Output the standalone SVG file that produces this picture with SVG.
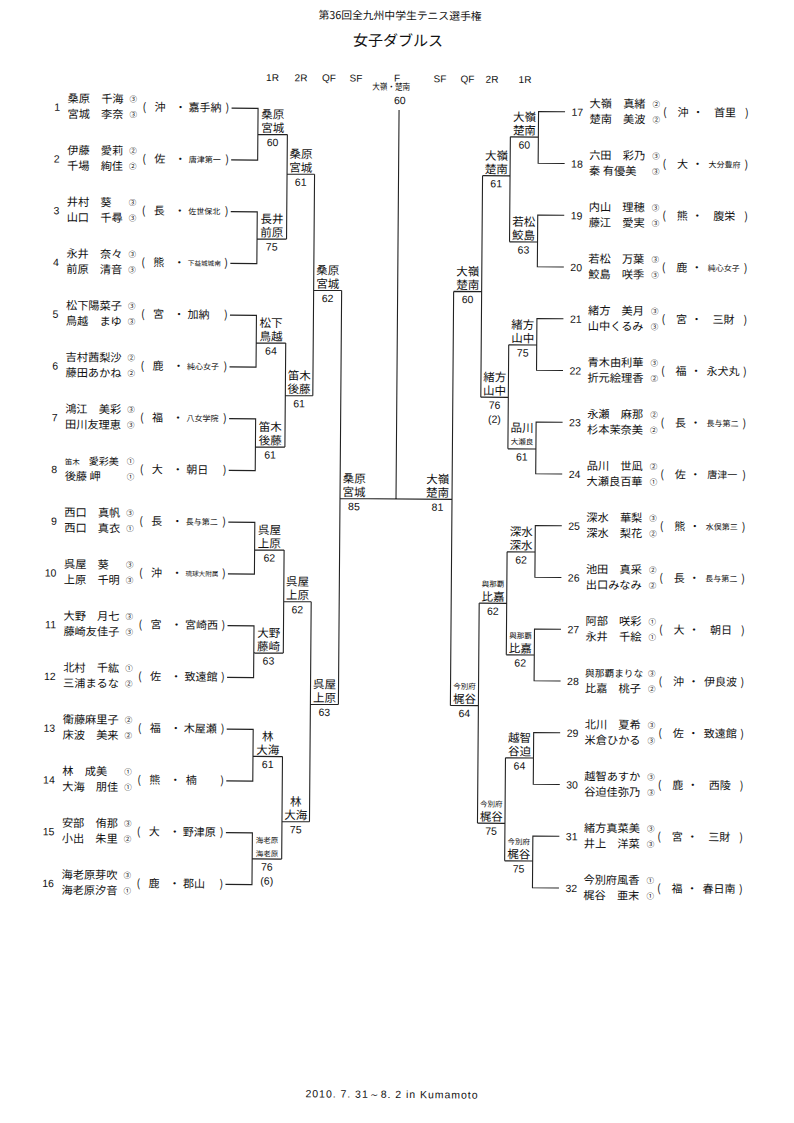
<svg xmlns="http://www.w3.org/2000/svg" width="794" height="1123" viewBox="0 0 794 1123">
<style>
text{fill:#111}
.ln{stroke:#222;stroke-width:1.1;fill:none}
.n{font-family:"Liberation Sans",Arial,sans-serif;font-size:10.5px}
.j{font-family:"Noto Sans CJK JP","Noto Sans CJK SC",sans-serif}
.jl{font-family:"Liberation Sans","Noto Sans CJK JP","Noto Sans CJK SC",sans-serif}
.nm{font-size:11.2px}
.g{font-size:7.5px}
.p{font-size:11px}
.ss{font-size:8px}
.sx{font-size:6.6px}
.lb{font-size:11.5px;text-anchor:middle}
.sm{font-size:7.5px}
.sc{font-family:"Liberation Sans",Arial,sans-serif;font-size:10.5px;text-anchor:middle}
.hd{font-family:"Liberation Sans",Arial,sans-serif;font-size:10px;text-anchor:middle}
.m{text-anchor:middle}
.e{text-anchor:end}
</style>
<rect width="794" height="1123" fill="#fff"/>
<g transform="rotate(0.45 400 500)">
<g id="title">
<text class="j m" x="396.2" y="19.5" font-size="10.8">第36回全九州中学生テニス選手権</text>
<text class="j m" x="394.4" y="46" font-size="15">女子ダブルス</text>
</g>
<g id="rounds">
<text class="hd" x="269.2" y="82">1R</text>
<text class="hd" x="297.7" y="82">2R</text>
<text class="hd" x="325.7" y="82">QF</text>
<text class="hd" x="352.7" y="82">SF</text>
<text class="hd" x="393.7" y="81.5">F</text>
<text class="hd" x="436.7" y="82">SF</text>
<text class="hd" x="464.2" y="82">QF</text>
<text class="hd" x="488.7" y="82">2R</text>
<text class="hd" x="521.7" y="82">1R</text>
</g>
<g id="connectors" class="ln">
<path d="M228.5 109.5H255V161.25H228.5M255 135.5H284.5M228.5 213H255V264.75H228.5M255 240H284.5M228.5 316.5H255V368.25H228.5M255 344H284.5M228.5 420H255V471.75H228.5M255 448H284.5M228.5 523.5H255V575.25H228.5M255 551H284.5M228.5 627H255V678.75H228.5M255 654H284.5M228.5 730.5H255V782.25H228.5M255 757.5H284.5M228.5 834H255V885.75H228.5M255 860H284.5"/>
<path d="M284.5 135.5V240M284.5 175H312M284.5 344V448M284.5 396.5H312M284.5 551V654M284.5 602.5H312M284.5 757.5V860M284.5 822.5H312"/>
<path d="M312 175V396.5M312 291H340M312 602.5V822.5M312 705H340M340 291V705M340 499H452M396 110V499"/>
<path d="M562 110.5H535.5V162.25H562M535.5 136H507.5M562 214H535.5V265.75H562M535.5 241H507.5M562 317.5H535.5V369.25H562M535.5 344H507.5M562 421H535.5V472.75H562M535.5 448H507.5M562 524.5H535.5V576.25H562M535.5 551H507.5M562 628H535.5V679.75H562M535.5 654H507.5M562 731.5H535.5V783.25H562M535.5 757H507.5M562 835H535.5V886.75H562M535.5 860H507.5"/>
<path d="M507.5 136V241M507.5 175H480M507.5 344V448M507.5 396.5H480M507.5 551V654M507.5 602.5H480M507.5 757V860M507.5 822.5H480"/>
<path d="M480 175V396.5M480 291H452M480 602.5V822.5M480 705H452M452 291V705"/>
</g>
<!-- left entries -->
<g id="e1" transform="translate(0 109.5)"><text class="n e" x="57" y="4">1</text><text class="j nm" x="64.5" y="-4.5">桑原　千海</text><text class="j nm" x="64.5" y="11">宮城　李奈</text><text class="j g" x="126.5" y="-5.5">③</text><text class="j g" x="126.5" y="10">③</text><text class="j p" x="139.5" y="3.5">(</text><text class="j p m" x="157" y="3.5">沖</text><text class="j p m" x="177.5" y="3.5">・</text><text class="j p" x="185.5" y="3.5">嘉手納</text><text class="j p" x="222.5" y="3.5">)</text></g>
<g id="e2" transform="translate(0 161.25)"><text class="n e" x="57" y="4">2</text><text class="j nm" x="64.5" y="-4.5">伊藤　愛莉</text><text class="j nm" x="64.5" y="11">千場　絢佳</text><text class="j g" x="126.5" y="-5.5">②</text><text class="j g" x="126.5" y="10">②</text><text class="j p" x="139.5" y="3.5">(</text><text class="j p m" x="157" y="3.5">佐</text><text class="j p m" x="177.5" y="3.5">・</text><text class="j ss" x="186" y="2.8">唐津第一</text><text class="j p" x="222.5" y="3.5">)</text></g>
<g id="e3" transform="translate(0 213)"><text class="n e" x="57" y="4">3</text><text class="j nm" x="64.5" y="-4.5">井村　葵</text><text class="j nm" x="64.5" y="11">山口　千尋</text><text class="j g" x="126.5" y="-5.5">③</text><text class="j g" x="126.5" y="10">③</text><text class="j p" x="139.5" y="3.5">(</text><text class="j p m" x="157" y="3.5">長</text><text class="j p m" x="177.5" y="3.5">・</text><text class="j ss" x="186" y="2.8">佐世保北</text><text class="j p" x="222.5" y="3.5">)</text></g>
<g id="e4" transform="translate(0 264.75)"><text class="n e" x="57" y="4">4</text><text class="j nm" x="64.5" y="-4.5">永井　奈々</text><text class="j nm" x="64.5" y="11">前原　清音</text><text class="j g" x="126.5" y="-5.5">③</text><text class="j g" x="126.5" y="10">③</text><text class="j p" x="139.5" y="3.5">(</text><text class="j p m" x="157" y="3.5">熊</text><text class="j p m" x="177.5" y="3.5">・</text><text class="j sx" x="186" y="2.5">下益城城南</text><text class="j p" x="222.5" y="3.5">)</text></g>
<g id="e5" transform="translate(0 316.5)"><text class="n e" x="57" y="4">5</text><text class="j nm" x="64.5" y="-4.5">松下陽菜子</text><text class="j nm" x="64.5" y="11">鳥越　まゆ</text><text class="j g" x="126.5" y="-5.5">③</text><text class="j g" x="126.5" y="10">③</text><text class="j p" x="139.5" y="3.5">(</text><text class="j p m" x="157" y="3.5">宮</text><text class="j p m" x="177.5" y="3.5">・</text><text class="j p" x="186" y="3.5">加納</text><text class="j p" x="222.5" y="3.5">)</text></g>
<g id="e6" transform="translate(0 368.25)"><text class="n e" x="57" y="4">6</text><text class="j nm" x="64.5" y="-4.5">吉村茜梨沙</text><text class="j nm" x="64.5" y="11">藤田あかね</text><text class="j g" x="126.5" y="-5.5">②</text><text class="j g" x="126.5" y="10">②</text><text class="j p" x="139.5" y="3.5">(</text><text class="j p m" x="157" y="3.5">鹿</text><text class="j p m" x="177.5" y="3.5">・</text><text class="j ss" x="186" y="2.8">純心女子</text><text class="j p" x="222.5" y="3.5">)</text></g>
<g id="e7" transform="translate(0 420)"><text class="n e" x="57" y="4">7</text><text class="j nm" x="64.5" y="-4.5">鴻江　美彩</text><text class="j nm" x="64.5" y="11">田川友理恵</text><text class="j g" x="126.5" y="-5.5">③</text><text class="j g" x="126.5" y="10">③</text><text class="j p" x="139.5" y="3.5">(</text><text class="j p m" x="157" y="3.5">福</text><text class="j p m" x="177.5" y="3.5">・</text><text class="j ss" x="186" y="2.8">八女学院</text><text class="j p" x="222.5" y="3.5">)</text></g>
<g id="e8" transform="translate(0 471.75)"><text class="n e" x="57" y="4">8</text><text class="j" x="64.5" y="-4.5"><tspan font-size="7.5">笛木</tspan><tspan x="88.5" font-size="10">愛彩美</tspan></text><text class="j nm" x="64.5" y="11">後藤 岬</text><text class="j g" x="126.5" y="-5.5">①</text><text class="j g" x="126.5" y="10">①</text><text class="j p" x="139.5" y="3.5">(</text><text class="j p m" x="157" y="3.5">大</text><text class="j p m" x="177.5" y="3.5">・</text><text class="j p" x="186" y="3.5">朝日</text><text class="j p" x="222.5" y="3.5">)</text></g>
<g id="e9" transform="translate(0 523.5)"><text class="n e" x="57" y="4">9</text><text class="j nm" x="64.5" y="-4.5">西口　真帆</text><text class="j nm" x="64.5" y="11">西口　真衣</text><text class="j g" x="126.5" y="-5.5">③</text><text class="j g" x="126.5" y="10">①</text><text class="j p" x="139.5" y="3.5">(</text><text class="j p m" x="157" y="3.5">長</text><text class="j p m" x="177.5" y="3.5">・</text><text class="j ss" x="186" y="2.8">長与第二</text><text class="j p" x="222.5" y="3.5">)</text></g>
<g id="e10" transform="translate(0 575.25)"><text class="n e" x="57" y="4">10</text><text class="j nm" x="64.5" y="-4.5">呉屋　葵</text><text class="j nm" x="64.5" y="11">上原　千明</text><text class="j g" x="126.5" y="-5.5">③</text><text class="j g" x="126.5" y="10">③</text><text class="j p" x="139.5" y="3.5">(</text><text class="j p m" x="157" y="3.5">沖</text><text class="j p m" x="177.5" y="3.5">・</text><text class="j sx" x="186" y="2.5">琉球大附属</text><text class="j p" x="222.5" y="3.5">)</text></g>
<g id="e11" transform="translate(0 627)"><text class="n e" x="57" y="4">11</text><text class="j nm" x="64.5" y="-4.5">大野　月七</text><text class="j nm" x="64.5" y="11">藤崎友佳子</text><text class="j g" x="126.5" y="-5.5">③</text><text class="j g" x="126.5" y="10">③</text><text class="j p" x="139.5" y="3.5">(</text><text class="j p m" x="157" y="3.5">宮</text><text class="j p m" x="177.5" y="3.5">・</text><text class="j p" x="186" y="3.5">宮崎西</text><text class="j p" x="222.5" y="3.5">)</text></g>
<g id="e12" transform="translate(0 678.75)"><text class="n e" x="57" y="4">12</text><text class="j nm" x="64.5" y="-4.5">北村　千紘</text><text class="j nm" x="64.5" y="11">三浦まるな</text><text class="j g" x="126.5" y="-5.5">①</text><text class="j g" x="126.5" y="10">②</text><text class="j p" x="139.5" y="3.5">(</text><text class="j p m" x="157" y="3.5">佐</text><text class="j p m" x="177.5" y="3.5">・</text><text class="j p" x="186" y="3.5">致遠館</text><text class="j p" x="222.5" y="3.5">)</text></g>
<g id="e13" transform="translate(0 730.5)"><text class="n e" x="57" y="4">13</text><text class="j nm" x="64.5" y="-4.5">衛藤麻里子</text><text class="j nm" x="64.5" y="11">床波　美来</text><text class="j g" x="126.5" y="-5.5">②</text><text class="j g" x="126.5" y="10">②</text><text class="j p" x="139.5" y="3.5">(</text><text class="j p m" x="157" y="3.5">福</text><text class="j p m" x="177.5" y="3.5">・</text><text class="j p" x="185.5" y="3.5">木屋瀬</text><text class="j p" x="222.5" y="3.5">)</text></g>
<g id="e14" transform="translate(0 782.25)"><text class="n e" x="57" y="4">14</text><text class="j nm" x="64.5" y="-4.5">林　成美</text><text class="j nm" x="64.5" y="11">大海　朋佳</text><text class="j g" x="126.5" y="-5.5">①</text><text class="j g" x="126.5" y="10">①</text><text class="j p" x="139.5" y="3.5">(</text><text class="j p m" x="157" y="3.5">熊</text><text class="j p m" x="177.5" y="3.5">・</text><text class="j p" x="188" y="3.5">楠</text><text class="j p" x="222.5" y="3.5">)</text></g>
<g id="e15" transform="translate(0 834)"><text class="n e" x="57" y="4">15</text><text class="j nm" x="64.5" y="-4.5">安部　侑那</text><text class="j nm" x="64.5" y="11">小出　朱里</text><text class="j g" x="126.5" y="-5.5">③</text><text class="j g" x="126.5" y="10">②</text><text class="j p" x="139.5" y="3.5">(</text><text class="j p m" x="157" y="3.5">大</text><text class="j p m" x="177.5" y="3.5">・</text><text class="j p" x="185.5" y="3.5">野津原</text><text class="j p" x="222.5" y="3.5">)</text></g>
<g id="e16" transform="translate(0 885.75)"><text class="n e" x="57" y="4">16</text><text class="j nm" x="64.5" y="-4.5">海老原芽吹</text><text class="j nm" x="64.5" y="11">海老原汐音</text><text class="j g" x="126.5" y="-5.5">③</text><text class="j g" x="126.5" y="10">①</text><text class="j p" x="139.5" y="3.5">(</text><text class="j p m" x="157" y="3.5">鹿</text><text class="j p m" x="177.5" y="3.5">・</text><text class="j p" x="186" y="3.5">郡山</text><text class="j p" x="222.5" y="3.5">)</text></g>
<!-- right entries -->
<g id="e17" transform="translate(0 110.5)"><text class="n" x="568.5" y="4">17</text><text class="j nm" x="586.5" y="-4.5">大嶺　真緒</text><text class="j nm" x="586.5" y="11">楚南　美波</text><text class="j g" x="649.5" y="-5.5">②</text><text class="j g" x="649.5" y="10">②</text><text class="j p" x="660" y="3.5">(</text><text class="j p m" x="680" y="3.5">沖</text><text class="j p m" x="695" y="3.5">・</text><text class="j p m" x="722" y="3.5">首里</text><text class="j p" x="742" y="3.5">)</text></g>
<g id="e18" transform="translate(0 162.25)"><text class="n" x="568.5" y="4">18</text><text class="j nm" x="586.5" y="-4.5">六田　彩乃</text><text class="j nm" x="586.5" y="11">秦 有優美</text><text class="j g" x="649.5" y="-5.5">③</text><text class="j g" x="649.5" y="10">③</text><text class="j p" x="660" y="3.5">(</text><text class="j p m" x="680" y="3.5">大</text><text class="j p m" x="695" y="3.5">・</text><text class="j ss m" x="722" y="2.8">大分豊府</text><text class="j p" x="742" y="3.5">)</text></g>
<g id="e19" transform="translate(0 214)"><text class="n" x="568.5" y="4">19</text><text class="j nm" x="586.5" y="-4.5">内山　理穂</text><text class="j nm" x="586.5" y="11">藤江　愛実</text><text class="j g" x="649.5" y="-5.5">③</text><text class="j g" x="649.5" y="10">③</text><text class="j p" x="660" y="3.5">(</text><text class="j p m" x="680" y="3.5">熊</text><text class="j p m" x="695" y="3.5">・</text><text class="j p m" x="722" y="3.5">腹栄</text><text class="j p" x="742" y="3.5">)</text></g>
<g id="e20" transform="translate(0 265.75)"><text class="n" x="568.5" y="4">20</text><text class="j nm" x="586.5" y="-4.5">若松　万葉</text><text class="j nm" x="586.5" y="11">鮫島　咲季</text><text class="j g" x="649.5" y="-5.5">③</text><text class="j g" x="649.5" y="10">③</text><text class="j p" x="660" y="3.5">(</text><text class="j p m" x="680" y="3.5">鹿</text><text class="j p m" x="695" y="3.5">・</text><text class="j ss m" x="722" y="2.8">純心女子</text><text class="j p" x="742" y="3.5">)</text></g>
<g id="e21" transform="translate(0 317.5)"><text class="n" x="568.5" y="4">21</text><text class="j nm" x="586.5" y="-4.5">緒方　美月</text><text class="j nm" x="586.5" y="11">山中くるみ</text><text class="j g" x="649.5" y="-5.5">③</text><text class="j g" x="649.5" y="10">③</text><text class="j p" x="660" y="3.5">(</text><text class="j p m" x="680" y="3.5">宮</text><text class="j p m" x="695" y="3.5">・</text><text class="j p m" x="722" y="3.5">三財</text><text class="j p" x="742" y="3.5">)</text></g>
<g id="e22" transform="translate(0 369.25)"><text class="n" x="568.5" y="4">22</text><text class="j nm" x="586.5" y="-4.5">青木由利華</text><text class="j nm" x="586.5" y="11">折元絵理香</text><text class="j g" x="649.5" y="-5.5">③</text><text class="j g" x="649.5" y="10">②</text><text class="j p" x="660" y="3.5">(</text><text class="j p m" x="680" y="3.5">福</text><text class="j p m" x="695" y="3.5">・</text><text class="j p m" x="722" y="3.5">永犬丸</text><text class="j p" x="742" y="3.5">)</text></g>
<g id="e23" transform="translate(0 421)"><text class="n" x="568.5" y="4">23</text><text class="j nm" x="586.5" y="-4.5">永瀬　麻那</text><text class="j nm" x="586.5" y="11">杉本茉奈美</text><text class="j g" x="649.5" y="-5.5">②</text><text class="j g" x="649.5" y="10">②</text><text class="j p" x="660" y="3.5">(</text><text class="j p m" x="680" y="3.5">長</text><text class="j p m" x="695" y="3.5">・</text><text class="j ss m" x="722" y="2.8">長与第二</text><text class="j p" x="742" y="3.5">)</text></g>
<g id="e24" transform="translate(0 472.75)"><text class="n" x="568.5" y="4">24</text><text class="j nm" x="586.5" y="-4.5">品川　世凪</text><text class="j nm" x="586.5" y="11">大瀬良百華</text><text class="j g" x="649.5" y="-5.5">②</text><text class="j g" x="649.5" y="10">①</text><text class="j p" x="660" y="3.5">(</text><text class="j p m" x="680" y="3.5">佐</text><text class="j p m" x="695" y="3.5">・</text><text class="j m" x="722" y="3.2" font-size="10">唐津一</text><text class="j p" x="742" y="3.5">)</text></g>
<g id="e25" transform="translate(0 524.5)"><text class="n" x="568.5" y="4">25</text><text class="j nm" x="586.5" y="-4.5">深水　華梨</text><text class="j nm" x="586.5" y="11">深水　梨花</text><text class="j g" x="649.5" y="-5.5">③</text><text class="j g" x="649.5" y="10">②</text><text class="j p" x="660" y="3.5">(</text><text class="j p m" x="680" y="3.5">熊</text><text class="j p m" x="695" y="3.5">・</text><text class="j ss m" x="722" y="2.8">水俣第三</text><text class="j p" x="742" y="3.5">)</text></g>
<g id="e26" transform="translate(0 576.25)"><text class="n" x="568.5" y="4">26</text><text class="j nm" x="586.5" y="-4.5">池田　真采</text><text class="j nm" x="586.5" y="11">出口みなみ</text><text class="j g" x="649.5" y="-5.5">②</text><text class="j g" x="649.5" y="10">②</text><text class="j p" x="660" y="3.5">(</text><text class="j p m" x="680" y="3.5">長</text><text class="j p m" x="695" y="3.5">・</text><text class="j ss m" x="722" y="2.8">長与第二</text><text class="j p" x="742" y="3.5">)</text></g>
<g id="e27" transform="translate(0 628)"><text class="n" x="568.5" y="4">27</text><text class="j nm" x="586.5" y="-4.5">阿部　咲彩</text><text class="j nm" x="586.5" y="11">永井　千絵</text><text class="j g" x="649.5" y="-5.5">①</text><text class="j g" x="649.5" y="10">①</text><text class="j p" x="660" y="3.5">(</text><text class="j p m" x="680" y="3.5">大</text><text class="j p m" x="695" y="3.5">・</text><text class="j p m" x="722" y="3.5">朝日</text><text class="j p" x="742" y="3.5">)</text></g>
<g id="e28" transform="translate(0 679.75)"><text class="n" x="568.5" y="4">28</text><text class="j" x="586.5" y="-4.5" font-size="9.7">與那覇まりな</text><text class="j nm" x="586.5" y="11">比嘉　桃子</text><text class="j g" x="649.5" y="-5.5">③</text><text class="j g" x="649.5" y="10">②</text><text class="j p" x="660" y="3.5">(</text><text class="j p m" x="680" y="3.5">沖</text><text class="j p m" x="695" y="3.5">・</text><text class="j p m" x="722" y="3.5">伊良波</text><text class="j p" x="742" y="3.5">)</text></g>
<g id="e29" transform="translate(0 731.5)"><text class="n" x="568.5" y="4">29</text><text class="j nm" x="586.5" y="-4.5">北川　夏希</text><text class="j nm" x="586.5" y="11">米倉ひかる</text><text class="j g" x="649.5" y="-5.5">③</text><text class="j g" x="649.5" y="10">③</text><text class="j p" x="660" y="3.5">(</text><text class="j p m" x="680" y="3.5">佐</text><text class="j p m" x="695" y="3.5">・</text><text class="j p m" x="722" y="3.5">致遠館</text><text class="j p" x="742" y="3.5">)</text></g>
<g id="e30" transform="translate(0 783.25)"><text class="n" x="568.5" y="4">30</text><text class="j nm" x="586.5" y="-4.5">越智あすか</text><text class="j nm" x="586.5" y="11">谷迫佳弥乃</text><text class="j g" x="649.5" y="-5.5">③</text><text class="j g" x="649.5" y="10">③</text><text class="j p" x="660" y="3.5">(</text><text class="j p m" x="680" y="3.5">鹿</text><text class="j p m" x="695" y="3.5">・</text><text class="j p m" x="722" y="3.5">西陵</text><text class="j p" x="742" y="3.5">)</text></g>
<g id="e31" transform="translate(0 835)"><text class="n" x="568.5" y="4">31</text><text class="j nm" x="586.5" y="-4.5">緒方真菜美</text><text class="j nm" x="586.5" y="11">井上　洋菜</text><text class="j g" x="649.5" y="-5.5">③</text><text class="j g" x="649.5" y="10">③</text><text class="j p" x="660" y="3.5">(</text><text class="j p m" x="680" y="3.5">宮</text><text class="j p m" x="695" y="3.5">・</text><text class="j p m" x="722" y="3.5">三財</text><text class="j p" x="742" y="3.5">)</text></g>
<g id="e32" transform="translate(0 886.75)"><text class="n" x="568.5" y="4">32</text><text class="j nm" x="586.5" y="-4.5">今別府風香</text><text class="j nm" x="586.5" y="11">梶谷　亜末</text><text class="j g" x="649.5" y="-5.5">①</text><text class="j g" x="649.5" y="10">①</text><text class="j p" x="660" y="3.5">(</text><text class="j p m" x="680" y="3.5">福</text><text class="j p m" x="695" y="3.5">・</text><text class="j p m" x="722" y="3.5">春日南</text><text class="j p" x="742" y="3.5">)</text></g>
<!-- left winners -->
<g id="l1a" transform="translate(269.75 135.5)"><text class="jl lb"><tspan x="0" y="-16">桑原</tspan><tspan x="0" y="-2.5">宮城</tspan></text><text class="sc" y="11.5">60</text></g>
<g id="l1b" transform="translate(269.75 240)"><text class="jl lb"><tspan x="0" y="-16">長井</tspan><tspan x="0" y="-2.5">前原</tspan></text><text class="sc" y="11.5">75</text></g>
<g id="l1c" transform="translate(269.75 344)"><text class="jl lb"><tspan x="0" y="-16">松下</tspan><tspan x="0" y="-2.5">鳥越</tspan></text><text class="sc" y="11.5">64</text></g>
<g id="l1d" transform="translate(269.75 448)"><text class="jl lb"><tspan x="0" y="-16">笛木</tspan><tspan x="0" y="-2.5">後藤</tspan></text><text class="sc" y="11.5">61</text></g>
<g id="l1e" transform="translate(269.75 551)"><text class="jl lb"><tspan x="0" y="-16">呉屋</tspan><tspan x="0" y="-2.5">上原</tspan></text><text class="sc" y="11.5">62</text></g>
<g id="l1f" transform="translate(269.75 654)"><text class="jl lb"><tspan x="0" y="-16">大野</tspan><tspan x="0" y="-2.5">藤崎</tspan></text><text class="sc" y="11.5">63</text></g>
<g id="l1g" transform="translate(269.75 757.5)"><text class="jl lb"><tspan x="0" y="-16">林</tspan><tspan x="0" y="-2.5">大海</tspan></text><text class="sc" y="11.5">61</text></g>
<g id="l1h" transform="translate(269.75 860)"><text class="jl lb sm"><tspan x="0" y="-16">海老原</tspan><tspan x="0" y="-2.5">海老原</tspan></text><text class="sc" y="11.5">76</text><text class="sc" y="25.5">(6)</text></g>
<g id="l2a" transform="translate(298.25 175)"><text class="jl lb"><tspan x="0" y="-16">桑原</tspan><tspan x="0" y="-2.5">宮城</tspan></text><text class="sc" y="11.5">61</text></g>
<g id="l2b" transform="translate(298.25 396.5)"><text class="jl lb"><tspan x="0" y="-16">笛木</tspan><tspan x="0" y="-2.5">後藤</tspan></text><text class="sc" y="11.5">61</text></g>
<g id="l2c" transform="translate(298.25 602.5)"><text class="jl lb"><tspan x="0" y="-16">呉屋</tspan><tspan x="0" y="-2.5">上原</tspan></text><text class="sc" y="11.5">62</text></g>
<g id="l2d" transform="translate(298.25 822.5)"><text class="jl lb"><tspan x="0" y="-16">林</tspan><tspan x="0" y="-2.5">大海</tspan></text><text class="sc" y="11.5">75</text></g>
<g id="lqa" transform="translate(326 291)"><text class="jl lb"><tspan x="0" y="-16">桑原</tspan><tspan x="0" y="-2.5">宮城</tspan></text><text class="sc" y="11.5">62</text></g>
<g id="lqb" transform="translate(326 705)"><text class="jl lb"><tspan x="0" y="-16">呉屋</tspan><tspan x="0" y="-2.5">上原</tspan></text><text class="sc" y="11.5">63</text></g>
<g id="lsf" transform="translate(354 499)"><text class="jl lb"><tspan x="0" y="-16">桑原</tspan><tspan x="0" y="-2.5">宮城</tspan></text><text class="sc" y="11.5">85</text></g>
<!-- right winners -->
<g id="r1a" transform="translate(521.5 136)"><text class="jl lb"><tspan x="0" y="-16">大嶺</tspan><tspan x="0" y="-2.5">楚南</tspan></text><text class="sc" y="11.5">60</text></g>
<g id="r1b" transform="translate(521.5 241)"><text class="jl lb"><tspan x="0" y="-16">若松</tspan><tspan x="0" y="-2.5">鮫島</tspan></text><text class="sc" y="11.5">63</text></g>
<g id="r1c" transform="translate(521.5 344)"><text class="jl lb"><tspan x="0" y="-16">緒方</tspan><tspan x="0" y="-2.5">山中</tspan></text><text class="sc" y="11.5">75</text></g>
<g id="r1d" transform="translate(521.5 448)"><text class="jl lb"><tspan x="0" y="-17">品川</tspan><tspan x="0" y="-4.5" font-size="7.5">大瀬良</tspan></text><text class="sc" y="11.5">61</text></g>
<g id="r1e" transform="translate(521.5 551)"><text class="jl lb"><tspan x="0" y="-16">深水</tspan><tspan x="0" y="-2.5">深水</tspan></text><text class="sc" y="11.5">62</text></g>
<g id="r1f" transform="translate(521.5 654)"><text class="jl lb"><tspan x="0" y="-16.5" font-size="7.5">與那覇</tspan><tspan x="0" y="-2.5">比嘉</tspan></text><text class="sc" y="11.5">62</text></g>
<g id="r1g" transform="translate(521.5 757)"><text class="jl lb"><tspan x="0" y="-16">越智</tspan><tspan x="0" y="-2.5">谷迫</tspan></text><text class="sc" y="11.5">64</text></g>
<g id="r1h" transform="translate(521.5 860)"><text class="jl lb"><tspan x="0" y="-16.5" font-size="7.5">今別府</tspan><tspan x="0" y="-2.5">梶谷</tspan></text><text class="sc" y="11.5">75</text></g>
<g id="r2a" transform="translate(493.75 175)"><text class="jl lb"><tspan x="0" y="-16">大嶺</tspan><tspan x="0" y="-2.5">楚南</tspan></text><text class="sc" y="11.5">61</text></g>
<g id="r2b" transform="translate(493.75 396.5)"><text class="jl lb"><tspan x="0" y="-16">緒方</tspan><tspan x="0" y="-2.5">山中</tspan></text><text class="sc" y="11.5">76</text><text class="sc" y="25.5">(2)</text></g>
<g id="r2c" transform="translate(493.75 602.5)"><text class="jl lb"><tspan x="0" y="-16.5" font-size="7.5">與那覇</tspan><tspan x="0" y="-2.5">比嘉</tspan></text><text class="sc" y="11.5">62</text></g>
<g id="r2d" transform="translate(493.75 822.5)"><text class="jl lb"><tspan x="0" y="-16.5" font-size="7.5">今別府</tspan><tspan x="0" y="-2.5">梶谷</tspan></text><text class="sc" y="11.5">75</text></g>
<g id="rqa" transform="translate(466 291)"><text class="jl lb"><tspan x="0" y="-16">大嶺</tspan><tspan x="0" y="-2.5">楚南</tspan></text><text class="sc" y="11.5">60</text></g>
<g id="rqb" transform="translate(466 705)"><text class="jl lb"><tspan x="0" y="-16.5" font-size="7.5">今別府</tspan><tspan x="0" y="-2.5">梶谷</tspan></text><text class="sc" y="11.5">64</text></g>
<g id="rsf" transform="translate(437.5 499)"><text class="jl lb"><tspan x="0" y="-16">大嶺</tspan><tspan x="0" y="-2.5">楚南</tspan></text><text class="sc" y="11.5">81</text></g>
<g id="champion"><text class="jl m" x="388" y="90" font-size="9" textLength="38" lengthAdjust="spacingAndGlyphs">大嶺・楚南</text><text class="sc" x="396.7" y="104">60</text></g>
<g id="footer"><text class="n m" x="396.2" y="1098" font-size="9.5" textLength="172" lengthAdjust="spacing">2010. 7. 31～8. 2 in Kumamoto</text></g>
</g>
</svg>
